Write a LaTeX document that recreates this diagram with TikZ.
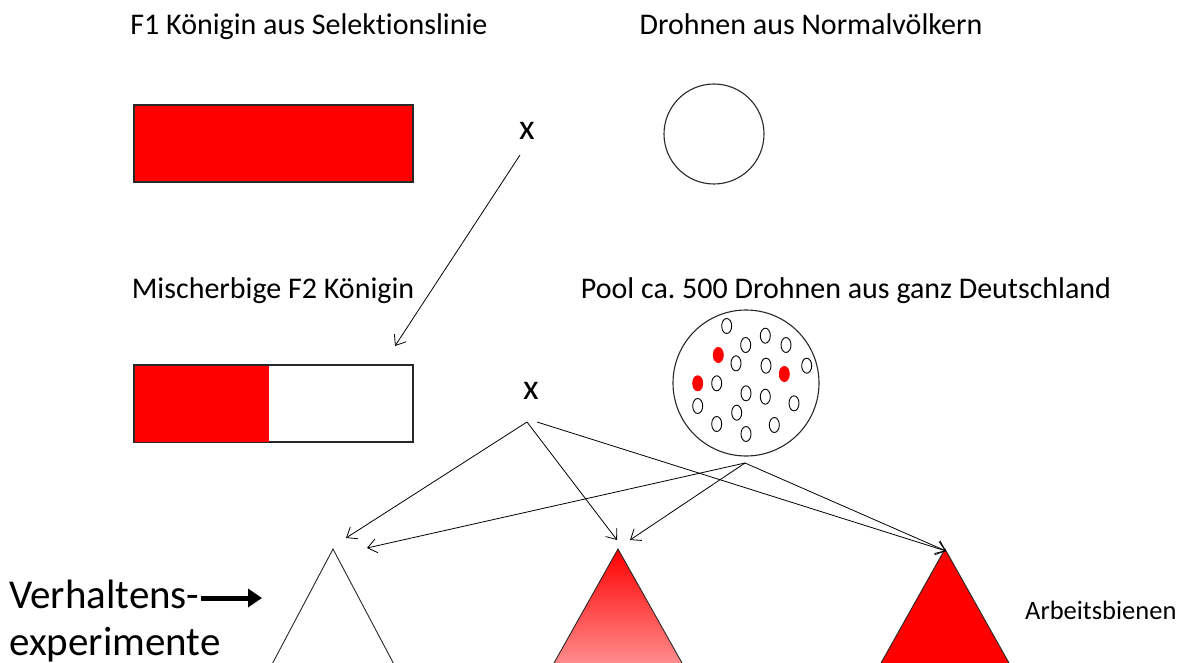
\documentclass[tikz,border=0pt]{standalone}
\usepackage{fontspec}
\setmainfont[Ligatures=NoCommon]{Carlito}
\frenchspacing
\usetikzlibrary{arrows.meta}
\definecolor{beered}{RGB}{255,0,0}
\definecolor{lightred}{RGB}{255,140,140}
\definecolor{edge}{RGB}{40,40,40}
\tikzset{
  heading/.style={font=\fontsize{30}{34}\selectfont, inner sep=0pt, anchor=base},
  cross/.style={font=\fontsize{36}{40}\selectfont, inner sep=0pt},
  genome/.style={draw=edge, line width=1.1pt},
  flow/.style={draw=black, line width=0.8pt, -{Straight Barb[length=9pt,width=14pt]}},
  drone/.style={draw=black, line width=0.9pt},
  colony/.style={draw=edge, line width=0.9pt},
  bigtext/.style={font=\fontsize{41}{46}\selectfont, inner sep=0pt, anchor=base west},
}
\begin{document}
\begin{tikzpicture}[x=1pt,y=-1pt]
\useasboundingbox (0,0) rectangle (1186,663);

% headings
\node[heading] (hq) at (309,35) {F1 Königin aus Selektionslinie};
\node[heading] (hd) at (811,35) {Drohnen aus Normalvölkern};
\node[heading] (hf2) at (273,298) {Mischerbige F2 Königin};
\node[heading] (hpool) at (846,298) {Pool ca. 500 Drohnen aus ganz Deutschland};

% F1 queen
\node[genome, fill=beered, minimum width=279pt, minimum height=77pt, inner sep=0pt] (f1) at (273.5,143.5) {};
% normal drones
\node[circle, genome, minimum size=100pt, inner sep=0pt] (dn) at (714,134) {};
% crosses
\node[cross] (x1) at (527,131) {x};
\node[cross] (x2) at (531,391) {x};

% F2 queen
\node[genome, minimum width=279pt, minimum height=77pt, inner sep=0pt] (f2) at (273.5,403.5) {};
\fill[beered] (134.5,365.5) rectangle (269,441.5);
\draw[genome] (f2.north west) rectangle (f2.south east);

% drone pool
\node[circle, genome, minimum size=146pt, inner sep=0pt] (pool) at (746,383) {};
\foreach \px/\py in {726.7/326, 745.7/345, 765.3/335.7, 786/345, 736/363.3, 766/365.7,
                     806.7/365.7, 716.7/383.3, 746/393.3, 765.3/396.7, 794/403.3,
                     697.7/406, 736.7/412.7, 716.7/424, 774.3/425, 746/434}
  \draw[drone] (\px,\py) ellipse [x radius=5pt, y radius=7.5pt];
\foreach \px/\py in {718.3/355, 784.3/374, 697.7/383.3}
  \fill[beered] (\px,\py) ellipse [x radius=5.5pt, y radius=8pt];

% worker colonies
\coordinate (ta) at (333,549);
\coordinate (tb) at (618,549);
\coordinate (tc) at (945,549);
\draw[colony] (269,670) -- (ta) -- (397,670);
\shade[top color=beered, bottom color=lightred] (554,663) -- (tb) -- (682,663) -- cycle;
\draw[colony] (554,663) -- (tb) -- (682,663);
\fill[beered] (881,663) -- (tc) -- (1009,663) -- cycle;
\draw[colony] (881,663) -- (tc) -- (1009,663);

% crossing arrows
\coordinate (x1s) at (520,155);
\coordinate (f2t) at (395,346);
\draw[flow] (x1s) -- (f2t);

\coordinate (x2l) at (527,422);
\coordinate (x2r) at (537,422);
\coordinate (pb) at (745,463);
\coordinate (ea) at (346,538);
\coordinate (eb) at (617,540);
\coordinate (ec) at (946,551);
\coordinate (fa) at (367,548);
\coordinate (fb) at (630,540);
\coordinate (fc) at (946,551);
\draw[flow] (x2l) -- (ea);
\draw[flow] (x2l) -- (eb);
\draw[flow] (x2r) -- (ec);
\draw[flow] (pb) -- (fa);
\draw[flow] (pb) -- (fb);
\draw[flow] (pb) -- (fc);

% side labels
\node[bigtext] (vh) at (9,608) {Verhaltens-};
\node[bigtext] (ve) at (9,655) {experimente};
\coordinate (va) at (262,598);
\draw[line width=5pt, -{Triangle[length=14pt,width=18pt]}] (vh.east |- va) ++(1,0) -- (va);
\node[font=\fontsize{26.5}{30}\selectfont, inner sep=0pt, anchor=base west] (ab) at (1025,619) {Arbeitsbienen};
\end{tikzpicture}
\end{document}
